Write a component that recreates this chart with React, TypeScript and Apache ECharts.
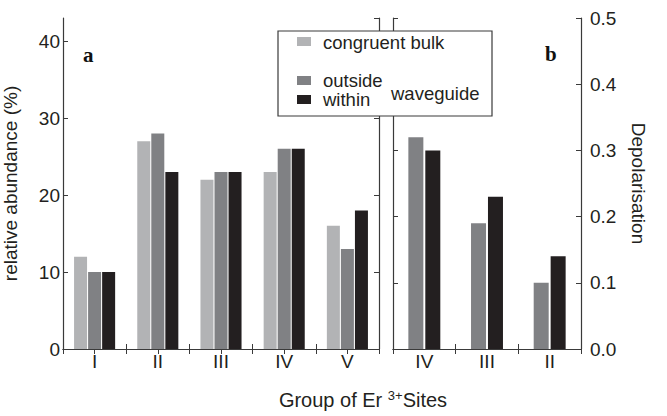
import React, { useEffect, useRef } from "react";
import * as echarts from "echarts";

const leftCategories = ["I", "II", "III", "IV", "V"];
const bulkA = [12, 27, 22, 23, 16];
const outsideA = [10, 28, 23, 26, 13];
const withinA = [10, 23, 23, 26, 18];

const rightCategories = ["IV", "III", "II"];
const outsideB = [0.32, 0.19, 0.1];
const withinB = [0.3, 0.23, 0.14];

const legendLabels = ["congruent bulk", "outside", "within"];

const FONT = "'Liberation Sans', Arial, Helvetica, sans-serif";
const SERIF = "'Liberation Serif', 'Times New Roman', serif";
const LIGHT = "#b2b3b5";
const MID = "#808184";
const DARK = "#231f20";
const AXIS = "#3a3a3a";
const TXT = "#231f20";

export default function App() {
  const ref = useRef<HTMLDivElement>(null);
  useEffect(() => {
    if (!ref.current) return;
    const chart = echarts.init(ref.current, null, { renderer: "svg" });
    const line = { show: true, lineStyle: { color: AXIS, width: 1.2 } };
    const tickIn = { show: true, inside: true, length: 5, lineStyle: { color: AXIS, width: 1 } };
    const Z = 100;
    const option: any = {
      animation: false,
      backgroundColor: "#fff",
      textStyle: { fontFamily: FONT },
      grid: [
        { left: 63, top: 18, width: 316, height: 331 },
        { left: 393, top: 18, width: 188, height: 331 },
      ],
      xAxis: [
        {
          type: "category", gridIndex: 0, data: leftCategories, position: "bottom",
          axisLine: line, axisTick: tickIn,
          axisLabel: { fontSize: 19, color: TXT, margin: 3, fontFamily: FONT },
        },
        {
          type: "value", gridIndex: 0, position: "top", min: 0, max: 10, interval: 1,
          axisLine: line, axisTick: tickIn, axisLabel: { show: false }, splitLine: { show: false },
        },
        {
          type: "category", gridIndex: 1, data: rightCategories, position: "bottom",
          axisLine: line, axisTick: tickIn,
          axisLabel: { fontSize: 19, color: TXT, margin: 3, fontFamily: FONT },
        },
        {
          type: "category", gridIndex: 1, data: rightCategories, position: "top",
          axisLine: line, axisTick: tickIn, axisLabel: { show: false },
        },
      ],
      yAxis: [
        {
          type: "value", gridIndex: 0, position: "left", min: 0, max: 43, interval: 10,
          axisLine: line, axisTick: tickIn, splitLine: { show: false },
          axisLabel: { fontSize: 19, color: TXT, margin: 3, showMaxLabel: false, fontFamily: FONT },
          name: "relative abundance (%)", nameLocation: "middle", nameGap: 43, nameRotate: 90,
          nameTextStyle: { fontSize: 19, color: TXT, fontFamily: FONT },
        },
        {
          type: "value", gridIndex: 0, position: "right", min: 0, max: 43, interval: 10,
          axisLine: line, axisTick: tickIn, splitLine: { show: false }, axisLabel: { show: false },
        },
        {
          type: "value", gridIndex: 1, position: "left", min: 0, max: 0.5, interval: 0.1,
          axisLine: line, axisTick: tickIn, splitLine: { show: false }, axisLabel: { show: false },
        },
        {
          type: "value", gridIndex: 1, position: "right", min: 0, max: 0.5, interval: 0.1,
          axisLine: line, axisTick: tickIn, splitLine: { show: false },
          axisLabel: { fontSize: 19, color: TXT, margin: 9, fontFamily: FONT, formatter: (v: number) => v.toFixed(1) },
          name: "Depolarisation", nameLocation: "middle", nameGap: 48, nameRotate: -90,
          nameTextStyle: { fontSize: 19, color: TXT, fontFamily: FONT },
        },
      ],
      series: [
        { name: legendLabels[0], type: "bar", xAxisIndex: 0, yAxisIndex: 0, data: bulkA, barWidth: 13, barGap: "8%", itemStyle: { color: LIGHT } },
        { name: legendLabels[1], type: "bar", xAxisIndex: 0, yAxisIndex: 0, data: outsideA, barWidth: 13, barGap: "8%", itemStyle: { color: MID } },
        { name: legendLabels[2], type: "bar", xAxisIndex: 0, yAxisIndex: 0, data: withinA, barWidth: 13, barGap: "8%", itemStyle: { color: DARK } },
        { name: legendLabels[1] + " ", type: "bar", xAxisIndex: 2, yAxisIndex: 3, data: outsideB, barWidth: 15, barGap: "13%", itemStyle: { color: MID } },
        { name: legendLabels[2] + " ", type: "bar", xAxisIndex: 2, yAxisIndex: 3, data: withinB, barWidth: 15, barGap: "13%", itemStyle: { color: DARK } },
      ],
      graphic: [
        { type: "rect", z: Z, shape: { x: 278, y: 31, width: 214, height: 85 }, style: { fill: "#fff", stroke: AXIS, lineWidth: 1.2 } },
        { type: "rect", z: Z + 1, shape: { x: 297, y: 37, width: 14, height: 9 }, style: { fill: LIGHT } },
        { type: "rect", z: Z + 1, shape: { x: 297, y: 76, width: 14, height: 9 }, style: { fill: MID } },
        { type: "rect", z: Z + 1, shape: { x: 297, y: 95, width: 14, height: 9 }, style: { fill: DARK } },
        { type: "text", z: Z + 1, x: 323, y: 42, style: { text: legendLabels[0], fontSize: 18.5, fontFamily: FONT, fill: TXT, verticalAlign: "middle" } },
        { type: "text", z: Z + 1, x: 323, y: 80, style: { text: legendLabels[1], fontSize: 18.5, fontFamily: FONT, fill: TXT, verticalAlign: "middle" } },
        { type: "text", z: Z + 1, x: 323, y: 99, style: { text: legendLabels[2], fontSize: 18.5, fontFamily: FONT, fill: TXT, verticalAlign: "middle" } },
        { type: "text", z: Z + 1, x: 391, y: 93, style: { text: "waveguide", fontSize: 18.5, fontFamily: FONT, fill: TXT, verticalAlign: "middle" } },
        { type: "text", z: Z, x: 83, y: 55, style: { text: "a", fontSize: 21, fontWeight: "bold", fontFamily: SERIF, fill: "#111", verticalAlign: "middle" } },
        { type: "text", z: Z, x: 545, y: 54, style: { text: "b", fontSize: 21, fontWeight: "bold", fontFamily: SERIF, fill: "#111", verticalAlign: "middle" } },
        {
          type: "text", z: Z, x: 363, y: 400,
          style: {
            text: "Group of Er {sup|3+}Sites",
            fontSize: 20, fontFamily: FONT, fill: TXT, align: "center", verticalAlign: "middle",
            rich: { sup: { fontSize: 13, fontFamily: FONT, fill: TXT, verticalAlign: "top", padding: [0, 0, 10, 0] } },
          },
        },
      ],
    };
    chart.setOption(option);
    return () => chart.dispose();
  }, []);
  return <div ref={ref} style={{ position: "fixed", left: 0, top: 0, width: 667, height: 416 }} />;
}
